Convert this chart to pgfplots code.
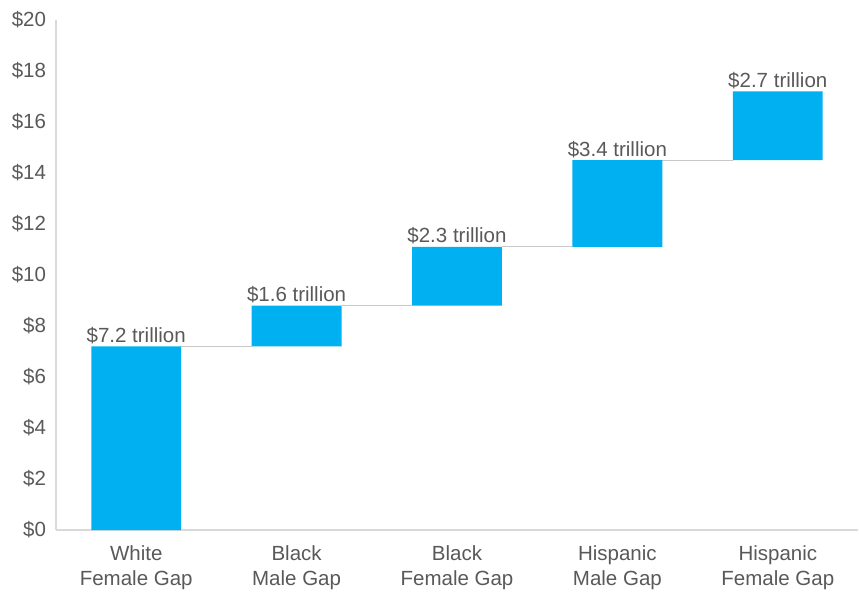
\documentclass[border=0pt]{standalone}
\usepackage{pgfplots}
\pgfplotsset{compat=1.18}
\usepackage{pgfplotstable}
\usepackage{fontspec}
\setmainfont{Liberation Sans}
\definecolor{barc}{HTML}{00B0F0}
\definecolor{txt}{HTML}{595959}
\definecolor{axc}{HTML}{D9D9D9}
\definecolor{conc}{HTML}{C8C8C8}
\pgfplotstableread{
x base val top
0 0    7.2 7.2
1 7.2  1.6 8.8
2 8.8  2.3 11.1
3 11.1 3.4 14.5
4 14.5 2.7 17.2
}\waterfall
\begin{document}
\fontsize{20.5bp}{24.5bp}\selectfont
\begin{tikzpicture}
\pgfplotsset{
  common/.style={
    width=802bp, height=510bp, scale only axis,
    xmin=-0.5, xmax=4.5, ymin=0, ymax=20,
  }
}
\begin{axis}[common,
  axis lines*=left,
  axis line style={axc, line width=1.3bp},
  major tick length=0,
  ytick={0,2,...,20},
  yticklabels={\$0,\$2,\$4,\$6,\$8,\$10,\$12,\$14,\$16,\$18,\$20},
  xtick={0,1,2,3,4},
  xticklabels={{White\\Female Gap},{Black\\Male Gap},{Black\\Female Gap},{Hispanic\\Male Gap},{Hispanic\\Female Gap}},
  xticklabel style={align=center, font=\fontsize{20.5bp}{24.5bp}\selectfont, text=txt, yshift=-9bp},
  yticklabel style={font=\fontsize{20.5bp}{24.5bp}\selectfont, text=txt, xshift=-3bp},
  /pgf/number format/assume math mode=true,
]
\addplot[conc, line width=1bp] coordinates {(0.28,7.2) (0.72,7.2)};
\addplot[conc, line width=1bp] coordinates {(1.28,8.8) (1.72,8.8)};
\addplot[conc, line width=1bp] coordinates {(2.28,11.1) (2.72,11.1)};
\addplot[conc, line width=1bp] coordinates {(3.28,14.5) (3.72,14.5)};
\end{axis}
\begin{axis}[common,
  hide axis,
  ybar stacked, bar width=0.56,
]
\addplot[draw=none, fill=none] table[x=x, y=base] {\waterfall};
\addplot[draw=none, fill=barc] table[x=x, y=val] {\waterfall};
\end{axis}
\begin{axis}[common, hide axis]
\addplot[draw=none, mark=none,
  point meta=explicit symbolic,
  nodes near coords={\$\pgfplotspointmeta{} trillion},
  every node near coord/.append style={anchor=base, yshift=4bp, inner sep=0pt, text=txt, font=\fontsize{20.5bp}{24.5bp}\selectfont},
] table[x=x, y=top, meta=val] {\waterfall};
\end{axis}
\pgfresetboundingbox
\path[use as bounding box] ([shift={(-56bp,-61bp)}]current axis.south west) rectangle ([shift={(1bp,20bp)}]current axis.north east);
\end{tikzpicture}
\end{document}
